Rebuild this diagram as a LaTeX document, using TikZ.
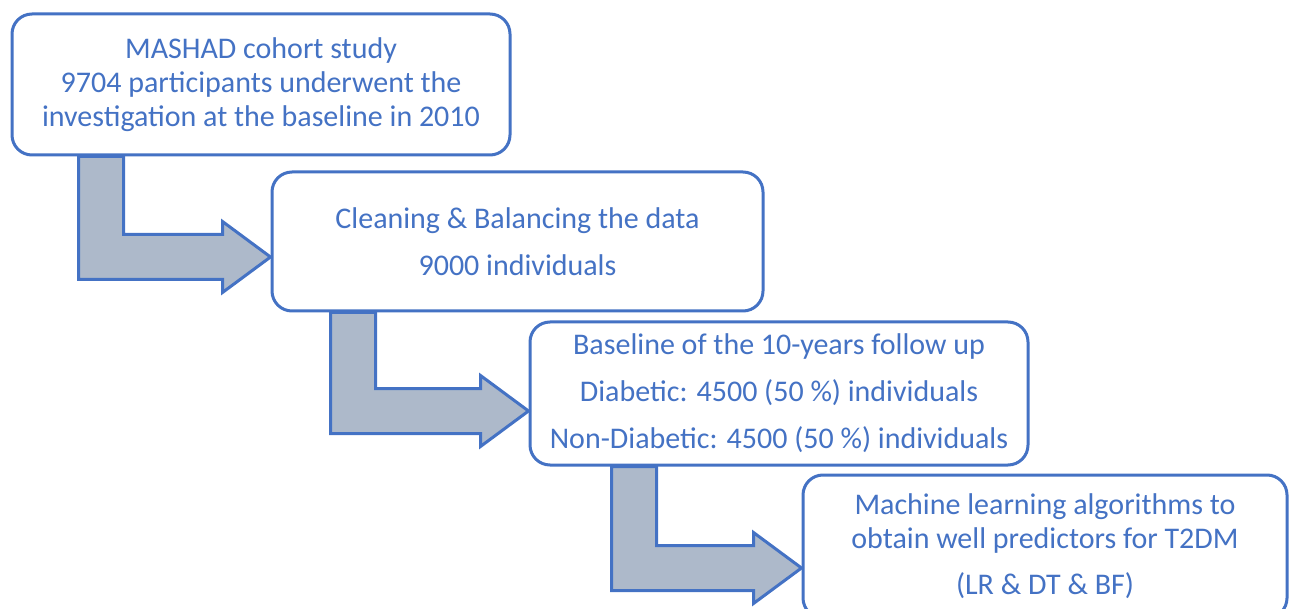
\documentclass[tikz,border=0pt]{standalone}
\usepackage{fontspec}
\setmainfont{Carlito}
\usepackage{xcolor}
\usetikzlibrary{calc}

\definecolor{cohortblue}{RGB}{68,114,196}
\definecolor{flowgray}{RGB}{173,185,202}

\tikzset{
  stage/.style={draw=cohortblue, line width=3pt, rounded corners=20pt, fill=white,
    text=cohortblue, align=center, inner sep=0pt, font=\fontsize{30}{34}\selectfont},
  flow/.style={fill=flowgray, draw=cohortblue, line width=3pt}
}

% bent block arrow: from node, to node, shaft offset, tip drop
\newcommand{\bentarrow}[4]{%
  \filldraw[flow] let \p1=($(#1.south west)+(#3pt,0)$), \p2=($(#2.west)+(0,-#4pt)$) in
    (\x1,\y1) -- (\x1+45pt,\y1) -- (\x1+45pt,\y2+22.5pt) -- (\x2-48pt,\y2+22.5pt)
    -- (\x2-48pt,\y2+35.5pt) -- (\x2,\y2) -- (\x2-48pt,\y2-35.5pt)
    -- (\x2-48pt,\y2-22.5pt) -- (\x1,\y2-22.5pt) -- cycle;}

\begin{document}
\begin{tikzpicture}[x=1pt,y=-1pt]
\useasboundingbox (0,0) rectangle (1295,609);

\node[stage, minimum width=498pt, minimum height=141pt] (cohort) at (261,84.5)
  {MASHAD cohort study\\9704 participants underwent the\\investigation at the baseline in 2010};
\node[stage, minimum width=491pt, minimum height=139pt] (cleaning) at (517.5,241.5)
  {Cleaning \& Balancing the data\\[13pt]9000 individuals};
\node[stage, minimum width=498pt, minimum height=143pt] (baseline) at (779,393.5)
  {Baseline of the 10-years follow up\\[13pt]Diabetic: 4500 (50 \%) individuals\\[13pt]Non-Diabetic: 4500 (50 \%) individuals};
\node[stage, minimum width=484pt, minimum height=143pt] (learning) at (1045,546.5)
  {Machine learning algorithms to\\obtain well predictors for T2DM\\[12pt](LR \& DT \& BF)};

\bentarrow{cohort}{cleaning}{68}{15.5}
\bentarrow{cleaning}{baseline}{60}{17.5}
\bentarrow{baseline}{learning}{83}{21.5}
\end{tikzpicture}
\end{document}
